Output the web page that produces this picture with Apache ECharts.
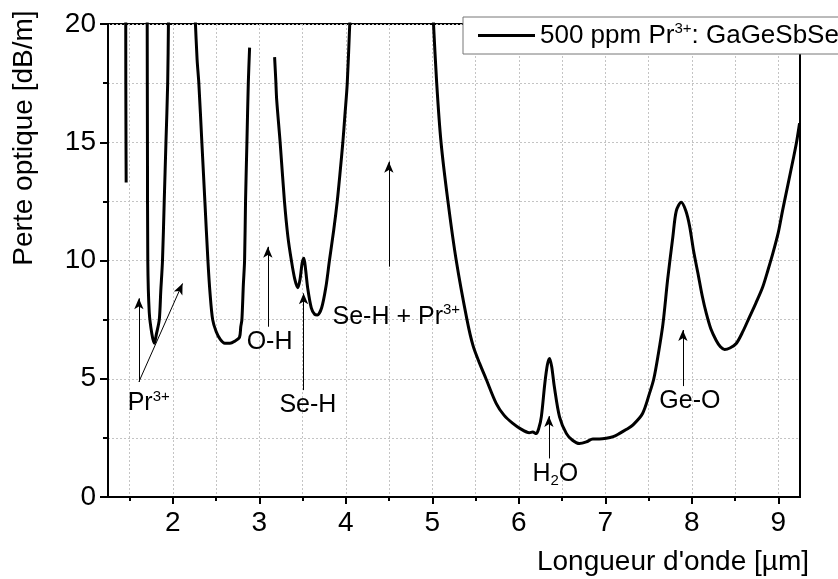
<!DOCTYPE html>
<html>
<head>
    <meta charset="utf-8">
    <title>Perte optique GaGeSbSe</title>
    <script src="https://cdn.jsdelivr.net/npm/echarts@6/dist/echarts.min.js"></script>
    <style>
        body { margin: 0; background: #fff; }
    </style>
</head>
<body>
<div id="main" style="width: 838px;height:579px;"></div>
<script type="text/javascript">
    var FONT = "'Liberation Sans', Arial, sans-serif";

    // trace segments [wavelength µm, loss dB/m]
    var seg1 = [[1.455, 20.5], [1.456, 17.5], [1.458, 15], [1.46, 13.3]];
    var seg2 = [[1.703, 20.5], [1.706, 15], [1.71, 10], [1.727, 7.8], [1.757, 6.9], [1.785, 6.5],
        [1.81, 6.9], [1.843, 7.5], [1.86, 8.7], [1.88, 10], [1.90, 12.5], [1.92, 15], [1.94, 17.5], [1.95, 20.5]];
    var seg3 = [[2.255, 20.5], [2.28, 18.5], [2.30, 17.5], [2.335, 15], [2.37, 12.5], [2.405, 10], [2.43, 8.6],
        [2.46, 7.5], [2.50, 7.0], [2.55, 6.65], [2.60, 6.5], [2.66, 6.5], [2.72, 6.6], [2.77, 6.75], [2.785, 7.2],
        [2.798, 7.5], [2.815, 9], [2.829, 10], [2.84, 12.5], [2.856, 15], [2.872, 17.5], [2.887, 19.0]];
    var seg4 = [[3.176, 18.6], [3.19, 17.6], [3.20, 16.8], [3.24, 15], [3.29, 12.5], [3.33, 11], [3.37, 10],
        [3.41, 9.2], [3.445, 8.85], [3.47, 9.2], [3.495, 9.9], [3.515, 10.1], [3.535, 9.6], [3.56, 8.8],
        [3.60, 8.0], [3.64, 7.72], [3.67, 7.7], [3.72, 8.0], [3.77, 8.9], [3.81, 10], [3.86, 11.3], [3.90, 12.5],
        [3.935, 13.8], [3.965, 15], [3.99, 16.2], [4.016, 17.5], [4.05, 20.5]];
    var seg5 = [[5.006, 20.5], [5.05, 17.5], [5.10, 15], [5.18, 12.5], [5.276, 10], [5.40, 7.5], [5.47, 6.4],
        [5.546, 5.65], [5.62, 5.0], [5.739, 3.95], [5.83, 3.45], [5.93, 3.11], [6.02, 2.88], [6.12, 2.72],
        [6.16, 2.75], [6.2, 2.68], [6.23, 2.9], [6.26, 3.4], [6.30, 4.8], [6.33, 5.6], [6.355, 5.86], [6.38, 5.5],
        [6.41, 4.66], [6.47, 3.39], [6.55, 2.68], [6.62, 2.4], [6.70, 2.26], [6.78, 2.33], [6.855, 2.45],
        [6.93, 2.45], [7.01, 2.48], [7.09, 2.55], [7.16, 2.68], [7.24, 2.85], [7.32, 3.05], [7.43, 3.53],
        [7.51, 4.38], [7.56, 5.0], [7.61, 6.0], [7.665, 7.3], [7.72, 9.2], [7.78, 11.0], [7.82, 12.1],
        [7.877, 12.46], [7.93, 12.1], [7.975, 11.43], [8.02, 10.4], [8.07, 9.46], [8.12, 8.5], [8.167, 7.76],
        [8.22, 7.1], [8.28, 6.63], [8.33, 6.35], [8.378, 6.24], [8.44, 6.3], [8.513, 6.49], [8.59, 7.0],
        [8.667, 7.62], [8.74, 8.2], [8.82, 8.89], [8.88, 9.6], [8.936, 10.3], [9.0, 11.2], [9.05, 12.14],
        [9.11, 13.2], [9.17, 14.26], [9.21, 15.0], [9.245, 15.8]];

    var xLabelTicks = [2, 3, 4, 5, 6, 7, 8, 9];
    var xHalfTicks = [1.5, 2, 2.5, 3, 3.5, 4, 4.5, 5, 5.5, 6, 6.5, 7, 7.5, 8, 8.5, 9];

    // annotations: label text and centre, arrows [x0, y0, x1, y1]
    var annoText = ['Pr{sup|3+}', 'O-H', 'Se-H', 'Se-H + Pr{sup|3+}', 'H{sub|2}O', 'Ge-O'];
    var annoX = [1.721, 3.118, 3.561, 4.583, 6.422, 7.977];
    var annoY = [3.95, 6.53, 3.88, 7.62, 0.96, 4.04];
    var arrows = [
        [1.607, 4.87, 1.607, 8.40],
        [1.607, 4.87, 2.112, 9.03],
        [3.098, 7.20, 3.098, 10.58],
        [3.511, 4.52, 3.511, 8.61],
        [4.497, 9.74, 4.497, 14.18],
        [6.347, 1.63, 6.347, 3.42],
        [7.896, 4.69, 7.896, 7.06]
    ];

    var seriesName = '500 ppm Pr3+: GaGeSbSe';
    var gap = ['-', '-'];
    var traceData = [].concat(seg1, [gap], seg2, [gap], seg3, [gap], seg4, [gap], seg5);

    var gridLine = {show: true, lineStyle: {color: '#c4c4c4', width: 1, type: [2, 2]}};

    var myChart = echarts.init(document.getElementById('main'));

    var option = {
        animation: false,
        grid: {left: 108, right: 38, top: 24, bottom: 82, show: true, borderColor: '#000', borderWidth: 2},
        legend: {
            data: [seriesName],
            left: 463, top: 17,
            padding: [4, 12, 4, 15],
            icon: 'rect', itemWidth: 57, itemHeight: 3,
            backgroundColor: '#fff', borderColor: '#777', borderWidth: 1,
            formatter: function () { return '500 ppm Pr{sup|3+}: GaGeSbSe'; },
            textStyle: {
                fontFamily: FONT, fontSize: 26, color: '#000', lineHeight: 29,
                rich: {sup: {fontFamily: FONT, fontSize: 15, color: '#000', verticalAlign: 'top', lineHeight: 20}}
            }
        },
        xAxis: [{
            type: 'value', min: 1.25, max: 9.25,
            axisLine: {show: true, lineStyle: {color: '#000', width: 2}},
            axisTick: {show: true, customValues: xLabelTicks, length: 7, lineStyle: {color: '#000', width: 2}},
            axisLabel: {customValues: xLabelTicks, fontFamily: FONT, fontSize: 28, color: '#000', margin: 12},
            splitLine: {show: false}
        }, {
            type: 'value', min: 1.25, max: 9.25, position: 'bottom',
            axisLine: {show: false},
            axisTick: {show: true, customValues: xHalfTicks, length: 4, lineStyle: {color: '#000', width: 2}},
            axisLabel: {show: false},
            splitLine: gridLine
        }],
        yAxis: {
            type: 'value', min: 0, max: 20, interval: 5,
            axisLine: {show: true, lineStyle: {color: '#000', width: 2}},
            axisTick: {show: true, length: 8, lineStyle: {color: '#000', width: 2}},
            minorTick: {show: true, splitNumber: 2, length: 5, lineStyle: {color: '#000', width: 2}},
            axisLabel: {fontFamily: FONT, fontSize: 28, color: '#000', margin: 12},
            splitLine: gridLine,
            minorSplitLine: gridLine
        },
        graphic: [
            {type: 'text', x: 24, y: 138, rotation: Math.PI / 2,
                style: {text: 'Perte optique [dB/m]', font: '28px ' + FONT, fill: '#000', align: 'center', verticalAlign: 'middle'}},
            {type: 'text', x: 673, y: 562,
                style: {text: "Longueur d'onde [µm]", font: '28px ' + FONT, fill: '#000', align: 'center', verticalAlign: 'middle'}}
        ],
        series: [{
            name: seriesName,
            type: 'line',
            xAxisIndex: 0,
            data: traceData,
            showSymbol: false,
            symbol: 'none',
            smooth: 0.3,
            connectNulls: false,
            clip: true,
            lineStyle: {color: '#000', width: 3},
            itemStyle: {color: '#000'},
            markLine: {
                silent: true,
                symbol: ['none', 'arrow'],
                symbolSize: [7, 11],
                label: {show: false},
                lineStyle: {color: '#000', width: 1, type: 'solid'},
                data: arrows.map(function (a) {
                    return [{coord: [a[0], a[1]]}, {coord: [a[2], a[3]]}];
                })
            },
            markPoint: {
                silent: true,
                symbol: 'circle',
                symbolSize: 1,
                itemStyle: {color: 'rgba(0,0,0,0)'},
                label: {
                    show: true, position: 'inside', formatter: '{b}',
                    fontFamily: FONT, fontSize: 25, color: '#000', lineHeight: 28,
                    rich: {
                        sup: {fontFamily: FONT, fontSize: 15, color: '#000', verticalAlign: 'top', lineHeight: 28},
                        sub: {fontFamily: FONT, fontSize: 15, color: '#000', verticalAlign: 'bottom', lineHeight: 28}
                    }
                },
                data: annoText.map(function (t, i) {
                    return {name: t, coord: [annoX[i], annoY[i]]};
                })
            }
        }]
    };

    myChart.setOption(option);
</script>
</body>
</html>
